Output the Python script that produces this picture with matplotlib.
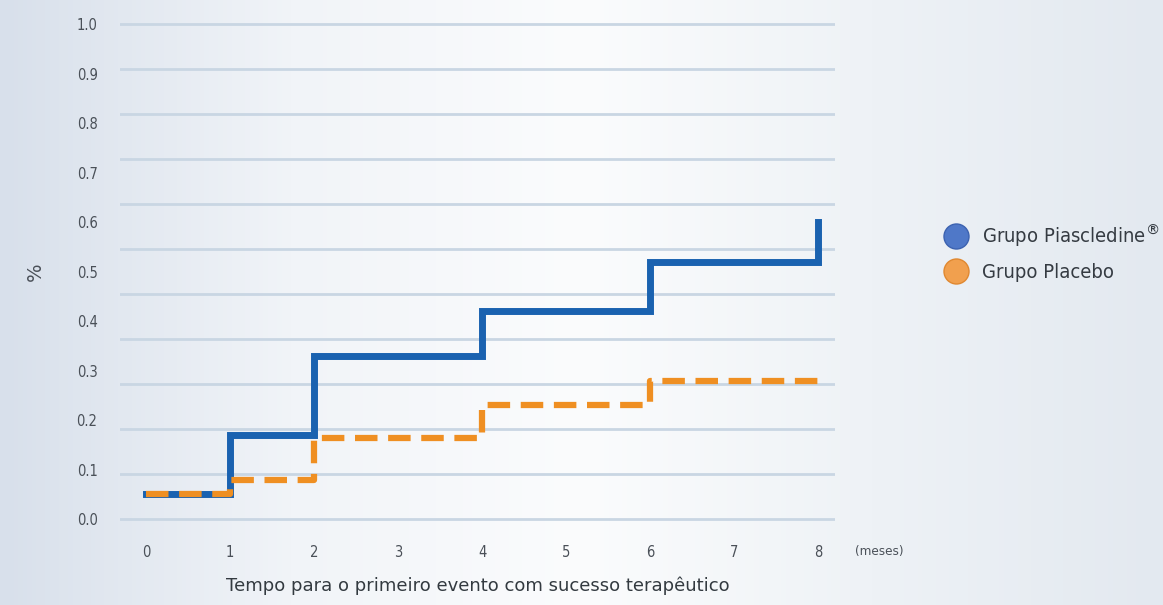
import matplotlib.pyplot as plt
import numpy as np
from matplotlib.lines import Line2D
from matplotlib.colors import LinearSegmentedColormap

# data
meses = [0, 1, 2, 4, 6, 8]
piascledine = [0.05, 0.17, 0.33, 0.42, 0.52, 0.60]
placebo = [0.05, 0.08, 0.165, 0.23, 0.28, 0.30]
x_ticks = [0, 1, 2, 3, 4, 5, 6, 7, 8]
y_ticks = [0.0, 0.1, 0.2, 0.3, 0.4, 0.5, 0.6, 0.7, 0.8, 0.9, 1.0]
nomes = ["Grupo Piascledine$^{®}$", "Grupo Placebo"]

azul = "#1a62b0"
laranja = "#ef8f22"
cinza = "#4a5058"
cond = dict(family="DejaVu Sans", stretch="condensed")

fig = plt.figure(figsize=(11.63, 6.05), dpi=100)

# soft background gradient
bg = fig.add_axes([0, 0, 1, 1], zorder=-10)
cmap = LinearSegmentedColormap.from_list("bg", ["#d8e0eb", "#f1f4f8", "#fbfcfd", "#eef2f6", "#e3e9f0"])
grad = np.tile(np.linspace(0, 1, 256), (32, 1))
bg.imshow(grad, cmap=cmap, aspect="auto", extent=[0, 1, 0, 1])
bg.axis("off")

ax = fig.add_axes([0.103, 0.132, 0.615, 0.838])
ax.set_facecolor("none")

# grid lines (12 evenly spaced, as drawn in the original)
for g in np.linspace(0, 1, 12):
    ax.axhline(g, color="#c9d6e3", lw=2, zorder=1)

ax.step(meses, piascledine, where="post", color=azul, lw=5, zorder=3,
        solid_joinstyle="miter")
ax.step(meses, placebo, where="post", color=laranja, lw=4.5, zorder=4,
        linestyle=(0, (3.6, 1.7)), dash_capstyle="butt")

ax.set_xlim(-0.31, 8.2)
ax.set_ylim(-0.012, 1.012)
ax.set_xticks(x_ticks)
ax.set_yticks(y_ticks)
ax.set_yticklabels([f"{v:.1f}" for v in y_ticks])
ax.tick_params(length=0, colors=cinza)
ax.tick_params(axis="y", pad=16)
ax.tick_params(axis="x", pad=14)
for lab in ax.get_xticklabels() + ax.get_yticklabels():
    lab.set_family(cond["family"])
    lab.set_stretch(cond["stretch"])
    lab.set_fontsize(10.5)
for s in ax.spines.values():
    s.set_visible(False)

fig.text(35 / 1163, 1 - 272 / 605, "%", rotation=90, fontsize=14, color=cinza,
         ha="center", va="center")
ax.set_xlabel("Tempo para o primeiro evento com sucesso terapêutico",
              fontsize=13, color="#333a40", labelpad=12)
fig.text(855 / 1163, 1 - 551 / 605, "(meses)", fontsize=9.5, color=cinza,
         va="center", **cond)

handles = [
    Line2D([], [], marker="o", ls="", markersize=18, markerfacecolor="#4f78c8",
           markeredgecolor="#3c62b0"),
    Line2D([], [], marker="o", ls="", markersize=18, markerfacecolor="#f1a04e",
           markeredgecolor="#e08830"),
]
leg = fig.legend(handles, nomes, loc="upper left",
                 bbox_to_anchor=(918 / 1163, 1 - 205 / 605), frameon=False,
                 handletextpad=0.3, labelspacing=0.7,
                 prop={"family": "DejaVu Sans", "stretch": "condensed", "size": 14.5})
for t in leg.get_texts():
    t.set_color("#353b42")

fig.savefig("out.png", dpi=100)
